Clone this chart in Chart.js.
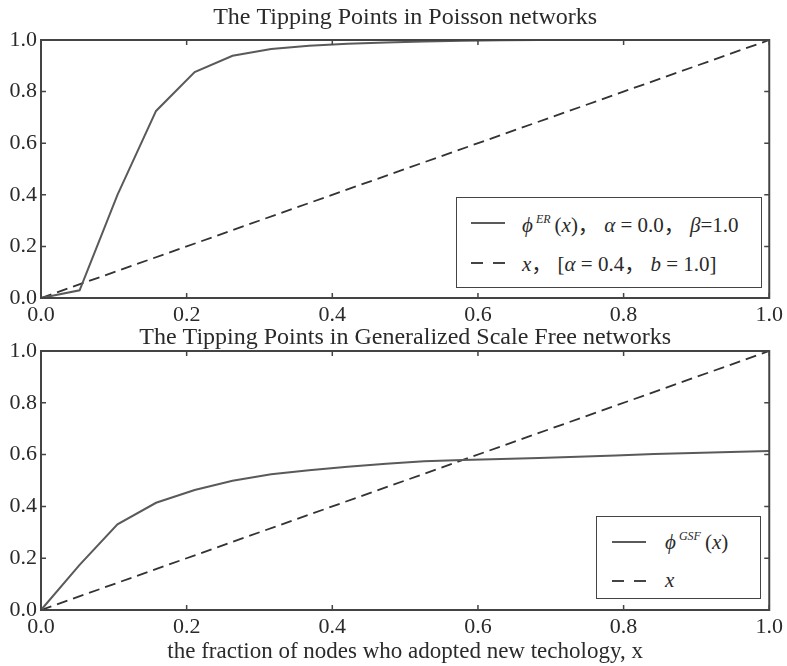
<!DOCTYPE html>
<html><head><meta charset="utf-8">
<script src="https://cdn.jsdelivr.net/npm/chart.js@4"></script>
<style>
html,body{margin:0;padding:0;background:#fff;}
#wrap{position:relative;width:787px;height:666px;overflow:hidden;background:#fff;}
canvas{position:absolute;left:0;}
#cA{top:0;} #cB{top:326px;}
.legend{position:absolute;border:1.5px solid #444;background:#fff;font-family:"Liberation Serif","Noto Sans CJK SC",serif;font-size:21px;color:#2a2a2a;box-sizing:border-box;}
.row{position:absolute;display:flex;align-items:center;height:30px;white-space:nowrap;}
.solid{width:34px;height:0;border-top:2px solid #5a5a5a;}
.dash{width:34px;height:0;display:flex;justify-content:space-between;}
.dash span{display:block;width:12px;border-top:2px solid #444;}
sup{font-size:12px;font-style:italic;vertical-align:9px;margin-left:3px;margin-right:4px;}
</style>
</head><body>
<div id="wrap">
<canvas id="cA" width="787" height="340"></canvas>
<canvas id="cB" width="787" height="340"></canvas>
</div>
<script>
// ---- data ----
const xValues = [0, 0.053, 0.105, 0.158, 0.211, 0.263, 0.316, 0.368, 0.421, 0.474, 0.526, 0.579, 0.632, 0.684, 0.737, 0.789, 0.842, 0.895, 0.947, 1.0];
const phiER  = [0.0, 0.03, 0.40, 0.725, 0.876, 0.939, 0.965, 0.978, 0.985, 0.990, 0.994, 0.997, 0.999, 1.0, 1.0, 1.0, 1.0, 1.0, 1.0, 1.0];
const phiGSF = [0.0, 0.174, 0.331, 0.414, 0.463, 0.499, 0.524, 0.540, 0.553, 0.565, 0.574, 0.579, 0.583, 0.587, 0.592, 0.597, 0.602, 0.606, 0.610, 0.614];
const diagX = [0, 1];
const diagY = [0, 1];
const tickValues = [0, 0.2, 0.4, 0.6, 0.8, 1.0];
const tickLabels = ['0.0', '0.2', '0.4', '0.6', '0.8', '1.0'];
const titleTop = 'The Tipping Points in Poisson networks';
const titleBottom = 'The Tipping Points in Generalized Scale Free networks';
const xAxisLabel = 'the fraction of nodes who adopted new techology, x';
const legendTop = ['<i>ϕ</i><sup>ER</sup>(<i>x</i>)，&nbsp;<i>α</i> = 0.0，&nbsp;<i>β</i>=1.0', '<i>x</i>，&nbsp;[<i>α</i> = 0.4，&nbsp;<i>b</i> = 1.0]'];
const legendBottom = ['<i>ϕ</i><sup>GSF</sup>(<i>x</i>)', '<i>x</i>'];
const seriesLabelsTop = ['phi ER(x), alpha=0.0, beta=1.0', 'x, [alpha=0.4, b=1.0]'];
const seriesLabelsBottom = ['phi GSF(x)', 'x'];

const FONT = 'Liberation Serif';
const INK = '#2a2a2a';

const frameTicks = {
  id: 'frameTicks',
  afterDraw(chart) {
    const {ctx, chartArea: a, scales} = chart;
    ctx.save();
    ctx.strokeStyle = '#444';
    ctx.lineWidth = 1.5;
    ctx.beginPath();
    tickValues.forEach(v => {
      const px = scales.x.getPixelForValue(v);
      const py = scales.y.getPixelForValue(v);
      ctx.moveTo(px, a.bottom); ctx.lineTo(px, a.bottom - 5);
      ctx.moveTo(px, a.top); ctx.lineTo(px, a.top + 5);
      ctx.moveTo(a.left, py); ctx.lineTo(a.left + 5, py);
      ctx.moveTo(a.right, py); ctx.lineTo(a.right - 5, py);
    });
    ctx.stroke();
    ctx.lineWidth = 2;
    ctx.strokeRect(a.left, a.top, a.right - a.left, a.bottom - a.top);
    ctx.restore();
  }
};

function makeChart(id, curve, labels, title, titlePad, xHeight, withXLabel) {
  const pts = xValues.map((x, i) => ({x, y: curve[i]}));
  const diag = diagX.map((x, i) => ({x, y: diagY[i]}));
  return new Chart(document.getElementById(id), {
    type: 'line',
    data: {datasets: [
      {label: labels[0], data: pts, borderColor: '#5a5a5a', borderWidth: 2, pointRadius: 0, tension: 0, fill: false, clip: 3},
      {label: labels[1], data: diag, borderColor: '#333', borderWidth: 1.8, borderDash: [11, 6], pointRadius: 0, tension: 0, fill: false, clip: 3}
    ]},
    options: {
      responsive: false, animation: false, devicePixelRatio: 1,
      layout: {padding: {left: 0, right: 15, top: 0, bottom: 0}},
      plugins: {
        legend: {display: false}, tooltip: {enabled: false},
        title: {display: true, fullSize: false, text: title, color: INK, font: {family: FONT, size: 24, weight: 'normal', lineHeight: 1}, padding: titlePad}
      },
      scales: {
        x: {
          type: 'linear', min: 0, max: 1,
          afterBuildTicks: s => { s.ticks = tickValues.map(v => ({value: v})); },
          afterFit: s => { s.height = xHeight; },
          grid: {display: false, drawTicks: false, tickLength: 0}, border: {display: false},
          ticks: {callback: (v, i) => tickLabels[i], color: INK, font: {family: FONT, size: 22}, padding: 4, maxRotation: 0, autoSkip: false},
          title: {display: withXLabel, text: xAxisLabel, color: INK, font: {family: FONT, size: 23, lineHeight: 1.2}, padding: 0}
        },
        y: {
          type: 'linear', min: 0, max: 1,
          afterBuildTicks: s => { s.ticks = tickValues.map(v => ({value: v})); },
          afterFit: s => { s.width = 41; },
          grid: {display: false, drawTicks: false, tickLength: 0}, border: {display: false},
          ticks: {callback: (v, i) => tickLabels[i], color: INK, font: {family: FONT, size: 22}, padding: 4, autoSkip: false}
        }
      }
    },
    plugins: [frameTicks]
  });
}

makeChart('cA', phiER, seriesLabelsTop, titleTop, {top: 6, bottom: 10}, 42, false);
makeChart('cB', phiGSF, seriesLabelsBottom, titleBottom, {top: 0, bottom: 1}, 56, true);

function makeLegend(box, texts, rows, sampleLeft, textLeft) {
  const d = document.createElement('div');
  d.className = 'legend';
  Object.assign(d.style, {left: box[0] + 'px', top: box[1] + 'px', width: box[2] + 'px', height: box[3] + 'px'});
  texts.forEach((t, i) => {
    const r = document.createElement('div');
    r.className = 'row';
    r.style.left = sampleLeft + 'px';
    r.style.top = (rows[i] - 15) + 'px';
    const s = document.createElement('div');
    if (i === 0) { s.className = 'solid'; } else { s.className = 'dash'; s.innerHTML = '<span></span><span></span>'; }
    s.style.marginRight = (textLeft - sampleLeft - 34) + 'px';
    const tx = document.createElement('div');
    tx.innerHTML = t;
    r.appendChild(s); r.appendChild(tx);
    d.appendChild(r);
  });
  document.getElementById('wrap').appendChild(d);
}
makeLegend([456, 197, 306, 91], legendTop, [25, 64], 14, 65);
makeLegend([596, 516, 165, 83], legendBottom, [25, 63], 15, 68);
</script>
</body></html>
